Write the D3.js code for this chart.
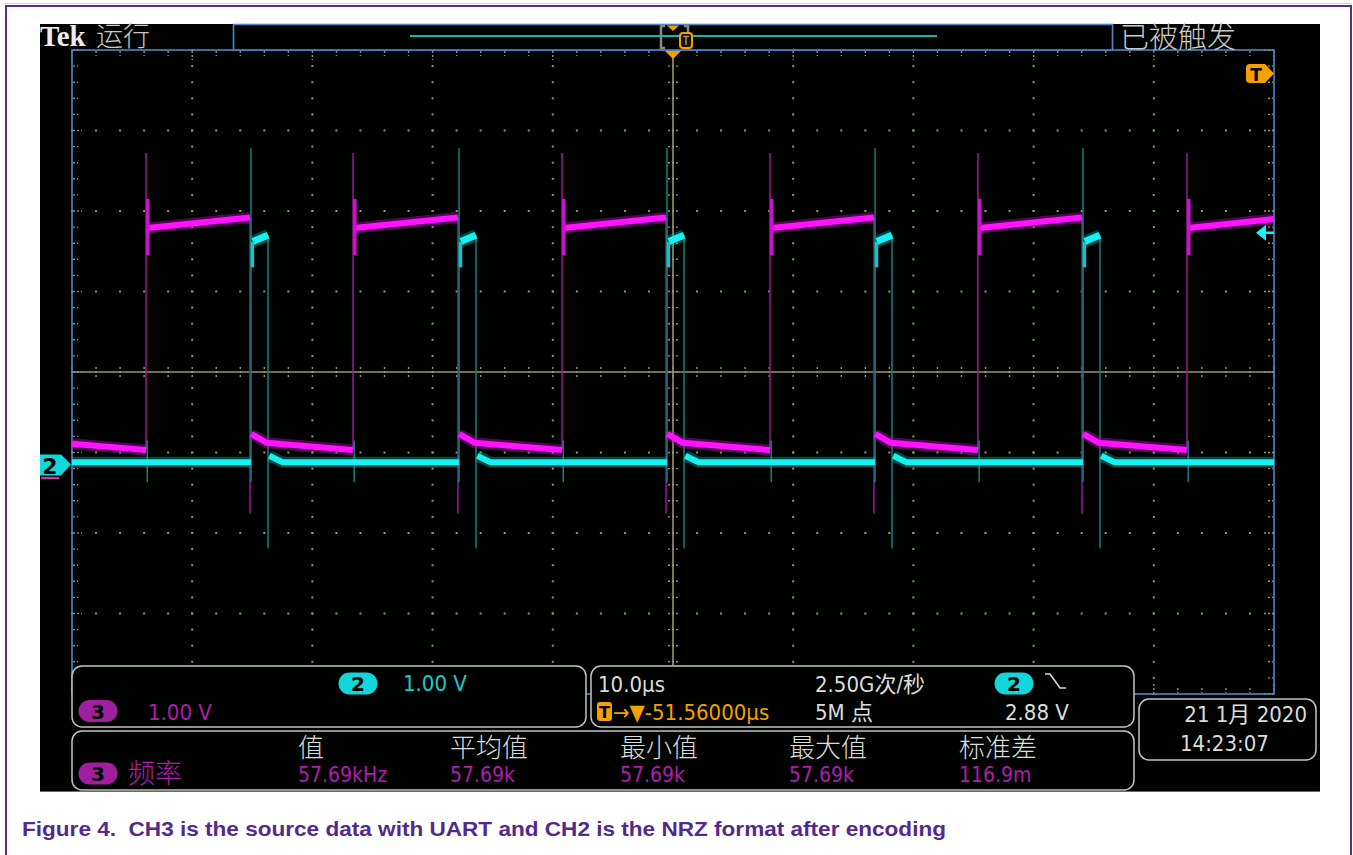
<!DOCTYPE html>
<html><head><meta charset="utf-8">
<script src="https://cdn.jsdelivr.net/npm/d3@7/dist/d3.min.js"></script>
<style>html,body{margin:0;padding:0;background:#fff;overflow:hidden}</style>
</head><body>
<svg id="c" width="1353" height="855"></svg>
<script>
// ---------- DATA ----------
// time in µs relative to screen centre (10 µs/div), voltage in V (1.00 V/div)
const ch3RiseT = [-43.84, -26.62, -9.23, 8.07, 25.37, 42.76];
const ch3FallT = [-35.19, -17.89, -0.58, 16.72, 34.03];
const ch2RiseT = [-35.11, -17.80, -0.50, 16.81, 34.11];
const ch2FallT = [-33.69, -16.39, 0.92, 18.22, 35.52];
const ch3HighLevels = [2.94, 3.07];        // start / end of high level
const ch3RingLevels = [2.60, 3.30];        // ringing span just after rising edge
const ch3LowLevels  = [0.38, 0.27, 0.18];  // just after fall, settled, before rise
const ch3StartLevel = 0.26, ch3EndLevel = 3.05;
const ch3SpikeLevels = [3.87, -0.61];      // overshoot at rise, undershoot at fall
const ch2HighLevels = [2.45, 2.77, 2.85];  // ring bottom, start, end
const ch2LowLevels  = [0.11, 0.03];        // just after fall, settled
const ch2SpikeLevels = [3.93, -0.22, -1.04]; // rise top, rise bottom, fall bottom
const ch2GlitchLevels = [0.30, -0.22];     // crosstalk at CH3 rising edges
const groundDiv = -1.15;                   // channel ground position, divisions
const triggerLevel = 2.88;
const gridDivX = 10, gridDivY = 8, minorPerDiv = 5;
const measHeaders = ["值", "平均值", "最小值", "最大值", "标准差"];
const measValues  = ["57.69kHz", "57.69k", "57.69k", "57.69k", "116.9m"];
const caption = "Figure 4.  CH3 is the source data with UART and CH2 is the NRZ format after encoding";

// ---------- SETUP ----------
const svg = d3.select("#c");
const PL = 72, PR = 1274, PT = 50, PB = 694;
const x = d3.scaleLinear().domain([-50, 50]).range([PL, PR]);
const y = d3.scaleLinear().domain([-4, 4]).range([PB, PT]);
const vy = v => y(v + groundDiv);
const FONT = "'DejaVu Sans Condensed','Liberation Sans Narrow','DejaVu Sans','Noto Sans CJK SC',sans-serif";
const CJK = "'Noto Sans CJK SC','DejaVu Sans',sans-serif";
const GRID = "#9c9275";
const BLUE = "#4f86c6";
const MAG = "#ff14ff", CYA = "#14f2f2";
const MAGT = "#b01cb0", CYAT = "#18cccc", WHT = "#dcdcdc", ORG = "#f5a000";

// outer page frame
svg.append("line").attr("x1",5).attr("x2",1352).attr("y1",6).attr("y2",6).attr("stroke","#5b2c8f").attr("stroke-width",2);
svg.append("line").attr("x1",5).attr("x2",1352).attr("y1",3.5).attr("y2",3.5).attr("stroke","#d8cce6").attr("stroke-width",1);
svg.append("line").attr("x1",6).attr("x2",6).attr("y1",5).attr("y2",855).attr("stroke","#5b2c8f").attr("stroke-width",2);
svg.append("line").attr("x1",1351).attr("x2",1351).attr("y1",5).attr("y2",855).attr("stroke","#5b2c8f").attr("stroke-width",2);

// scope screen
svg.append("rect").attr("x",40).attr("y",24).attr("width",1280).attr("height",768).attr("fill","#000200");
svg.append("line").attr("x1",40).attr("x2",1320).attr("y1",791.5).attr("y2",791.5).attr("stroke","#6a6a6a").attr("stroke-width",1);

// ---------- GRATICULE ----------
const g = svg.append("g");
const minorX = d3.range(0, gridDivX*minorPerDiv+1).map(i => -50 + i*(100/(gridDivX*minorPerDiv)));
const minorY = d3.range(0, gridDivY*minorPerDiv+1).map(i => -4 + i*(8/(gridDivY*minorPerDiv)));
const majorX = d3.range(1, gridDivX).map(i => -50 + i*10);
const majorY = d3.range(1, gridDivY).map(i => -4 + i);
const dots = [];
majorX.filter(t => t !== 0).forEach(t => minorY.forEach(v => dots.push([x(t), y(v)])));
majorY.filter(v => v !== 0).forEach(v => minorX.forEach(t => dots.push([x(t), y(v)])));
g.selectAll("rect.dot").data(dots).join("rect").attr("class","dot")
  .attr("x", d => d[0]-1).attr("y", d => d[1]-1).attr("width",2).attr("height",2).attr("fill",GRID);
// centre cross
g.append("line").attr("x1",PL).attr("x2",PR).attr("y1",y(0)).attr("y2",y(0)).attr("stroke",GRID).attr("stroke-width",1.6);
g.append("line").attr("x1",x(0)).attr("x2",x(0)).attr("y1",PT).attr("y2",PB).attr("stroke",GRID).attr("stroke-width",1.6);
g.selectAll("line.tx").data(minorX).join("line").attr("class","tx")
  .attr("x1",d=>x(d)).attr("x2",d=>x(d)).attr("y1",y(0)-5).attr("y2",y(0)+5)
  .attr("stroke",GRID).attr("stroke-width",1.4).attr("stroke-dasharray","2,2");
g.selectAll("line.ty").data(minorY).join("line").attr("class","ty")
  .attr("y1",d=>y(d)).attr("y2",d=>y(d)).attr("x1",x(0)-5).attr("x2",x(0)+5)
  .attr("stroke",GRID).attr("stroke-width",1.4).attr("stroke-dasharray","2,2");
// edge ticks
g.selectAll("line.et").data(minorX).join("line").attr("class","et")
  .attr("x1",d=>x(d)).attr("x2",d=>x(d)).attr("y1",PT+1).attr("y2",d => PT + (Math.abs(d%10)<1e-6 ? 10 : 6))
  .attr("stroke",GRID).attr("stroke-width",1.4).attr("stroke-dasharray","2,2");
g.selectAll("line.eb").data(minorX).join("line").attr("class","eb")
  .attr("x1",d=>x(d)).attr("x2",d=>x(d)).attr("y2",PB-1).attr("y1",d => PB - (Math.abs(d%10)<1e-6 ? 10 : 6))
  .attr("stroke",GRID).attr("stroke-width",1.4).attr("stroke-dasharray","2,2");
g.selectAll("line.el").data(minorY).join("line").attr("class","el")
  .attr("y1",d=>y(d)).attr("y2",d=>y(d)).attr("x1",PL+1).attr("x2",d => PL + (Math.abs(d%1)<1e-6 ? 10 : 6))
  .attr("stroke",GRID).attr("stroke-width",1.4).attr("stroke-dasharray","2,2");
g.selectAll("line.er").data(minorY).join("line").attr("class","er")
  .attr("y1",d=>y(d)).attr("y2",d=>y(d)).attr("x2",PR-1).attr("x1",d => PR - (Math.abs(d%1)<1e-6 ? 10 : 6))
  .attr("stroke",GRID).attr("stroke-width",1.4).attr("stroke-dasharray","2,2");
// border
g.append("rect").attr("x",PL).attr("y",PT).attr("width",PR-PL).attr("height",PB-PT)
  .attr("fill","none").attr("stroke",BLUE).attr("stroke-width",1.6);

// ---------- WAVEFORMS ----------
const line = d3.line().x(d => x(d[0])).y(d => vy(d[1]));
svg.append("clipPath").attr("id","clip").append("rect").attr("x",PL).attr("y",PT).attr("width",PR-PL).attr("height",PB-PT);
const wf = svg.append("g").attr("clip-path","url(#clip)");

// CH3 level segments (no vertical joins: edges are drawn thin)
const seg3 = [];
seg3.push([[-50, ch3StartLevel], [ch3RiseT[0], ch3LowLevels[2]]]);
ch3RiseT.forEach((tr, i) => {
  const tf = ch3FallT[i];
  if (tf !== undefined) {
    seg3.push([[tr+0.12, ch3HighLevels[0]], [tf, ch3HighLevels[1]]]);
    const next = ch3RiseT[i+1];
    seg3.push([[tf+0.1, ch3LowLevels[0]], [tf+1.4, ch3LowLevels[1]], [next, ch3LowLevels[2]]]);
  } else {
    seg3.push([[tr+0.12, ch3HighLevels[0]], [50, ch3EndLevel]]);
  }
});
const ring3 = ch3RiseT.map(tr => [[tr+0.15, ch3RingLevels[0]], [tr+0.15, ch3RingLevels[1]]]);
// CH2 level segments
const seg2low = [[[-50, ch2LowLevels[1]], [ch2RiseT[0], ch2LowLevels[1]]]];
const seg2high = [];
ch2RiseT.forEach((tr, i) => {
  const tf = ch2FallT[i];
  seg2high.push([[tr+0.15, ch2HighLevels[1]], [tf, ch2HighLevels[2]]]);
  const next = ch2RiseT[i+1] !== undefined ? ch2RiseT[i+1] : 50;
  seg2low.push([[tf+0.1, ch2LowLevels[0]], [tf+1.2, ch2LowLevels[1]], [next, ch2LowLevels[1]]]);
});
const ring2 = ch2RiseT.map(tr => [[tr+0.12, ch2HighLevels[0]], [tr+0.12, ch2HighLevels[1]]]);

// thin edge spikes
const spikes3 = ch3RiseT.map(t => [[t, ch3LowLevels[2]], [t, ch3SpikeLevels[0]]])
  .concat(ch3FallT.map(t => [[t, ch3HighLevels[1]], [t, ch3SpikeLevels[1]]]));
const spikes2 = ch2RiseT.map(t => [[t, ch2SpikeLevels[1]], [t, ch2SpikeLevels[0]]])
  .concat(ch2FallT.map(t => [[t, ch2HighLevels[2]], [t, ch2SpikeLevels[2]]]))
  .concat(ch3RiseT.map(t => [[t+0.1, ch2GlitchLevels[1]], [t+0.1, ch2GlitchLevels[0]]]));
wf.selectAll("path.s3").data(spikes3).join("path").attr("class","s3").attr("d", line)
  .attr("stroke","#9a1a9a").attr("stroke-width",1.5).attr("fill","none");
wf.selectAll("path.s2").data(spikes2).join("path").attr("class","s2").attr("d", line)
  .attr("stroke","#12807e").attr("stroke-width",1.5).attr("fill","none");

function bands(segs, halo, core, cls, w) {
  wf.selectAll("path.h"+cls).data(segs).join("path").attr("class","h"+cls).attr("d", line)
    .attr("fill","none").attr("stroke",halo).attr("stroke-width",w+5).attr("stroke-opacity",0.4);
  wf.selectAll("path.c"+cls).data(segs).join("path").attr("class","c"+cls).attr("d", line)
    .attr("fill","none").attr("stroke",core).attr("stroke-width",w);
}
bands(seg3, "#c010c0", MAG, "m", 6);
wf.selectAll("path.r3").data(ring3).join("path").attr("class","r3").attr("d", line)
  .attr("stroke","#d010d0").attr("stroke-width",3.5).attr("fill","none");
bands(seg2low, "#0aa8a8", CYA, "q", 6);
bands(seg2high, "#0aa8a8", CYA, "p", 7);
wf.selectAll("path.r2").data(ring2).join("path").attr("class","r2").attr("d", line)
  .attr("stroke","#10c8c8").attr("stroke-width",3.5).attr("fill","none");

// ---------- MARKERS ----------
// trigger position (top)
svg.append("path").attr("d",`M${x(0)-8},${PT+1} L${x(0)+8},${PT+1} L${x(0)},${PT+9} Z`).attr("fill",ORG);
// trigger level (right, cyan)
const ty = vy(triggerLevel);
svg.append("path").attr("d",`M${PR-18},${ty} L${PR-8},${ty-8} L${PR-8},${ty+8} Z`).attr("fill",CYA);
svg.append("line").attr("x1",PR-9).attr("x2",PR).attr("y1",ty).attr("y2",ty).attr("stroke",CYA).attr("stroke-width",2.5);
// T marker (right top)
svg.append("path").attr("d",`M1250,64 L1265,64 L1274,73.5 L1265,83 L1250,83 Q1246,83 1246,79 L1246,68 Q1246,64 1250,64 Z`).attr("fill",ORG);
svg.append("text").attr("x",1256).attr("y",81).attr("text-anchor","middle").attr("font-family","DejaVu Sans").attr("font-weight","bold").attr("font-size",17).attr("fill","#000").text("T");
// CH2 ground marker (left)
const gy = y(groundDiv);
svg.append("line").attr("x1",41).attr("x2",59).attr("y1",gy+13.5).attr("y2",gy+13.5).attr("stroke","#c040c0").attr("stroke-width",2);
svg.append("path").attr("d",`M40,${gy-10} L61,${gy-10} L71,${gy} L61,${gy+11} L40,${gy+11} Z`).attr("fill","#12d8dc");
svg.append("text").attr("x",50).attr("y",gy+9).attr("text-anchor","middle").attr("font-family","DejaVu Sans").attr("font-weight","bold").attr("font-size",22).attr("fill","#000").text("2");

// ---------- TOP BAR ----------
svg.append("text").attr("x",40).attr("y",46).attr("font-family","'Liberation Serif','DejaVu Serif',serif").attr("font-weight","bold").attr("font-size",29).attr("fill","#ecebf2").text("Tek");
svg.append("text").attr("x",96).attr("y",46).attr("font-family",CJK).attr("font-weight",300).attr("font-size",27).attr("fill","#c9c9c9").text("运行");
svg.append("text").attr("x",1120).attr("y",48).attr("font-family",CJK).attr("font-weight",300).attr("font-size",29).attr("fill","#c9c9c9").text("已被触发");
svg.append("rect").attr("x",233.5).attr("y",24.5).attr("width",879).attr("height",25.5).attr("fill","#000200").attr("stroke",BLUE).attr("stroke-width",1.6);
svg.append("line").attr("x1",410).attr("x2",937).attr("y1",36).attr("y2",36).attr("stroke","#17b3b3").attr("stroke-width",2);
svg.append("path").attr("d","M665,26 L661,26 L661,48 L665,48 M684,26 L688,26 L688,48 L684,48").attr("fill","none").attr("stroke","#8b8a80").attr("stroke-width",2.5);
svg.append("path").attr("d","M667,25.5 L679,25.5 L673,31 Z").attr("fill",ORG);
svg.append("rect").attr("x",680).attr("y",33).attr("width",12).attr("height",15).attr("rx",3).attr("fill","#1a1000").attr("stroke",ORG).attr("stroke-width",2);
svg.append("path").attr("d","M683,36.5 L689,36.5 M686,36.5 L686,45").attr("stroke","#9a9070").attr("stroke-width",1.6);

// ---------- BOTTOM PANELS ----------
function panel(x0, y0, w, h) {
  svg.append("rect").attr("x",x0).attr("y",y0).attr("width",w).attr("height",h).attr("rx",10)
    .attr("fill","#000200").attr("stroke","#c4c4c4").attr("stroke-width",1.5);
}
function pill(cx, cy, fill, label) {
  svg.append("rect").attr("x",cx-19.5).attr("y",cy-11).attr("width",39).attr("height",22).attr("rx",11).attr("fill",fill);
  svg.append("text").attr("x",cx).attr("y",cy+7.5).attr("text-anchor","middle").attr("font-family","DejaVu Sans").attr("font-weight","bold").attr("font-size",20).attr("fill","#000").text(label);
}
function txt(x0, y0, s, col, size, fam, anchor) {
  return svg.append("text").attr("x",x0).attr("y",y0).attr("font-family",fam||FONT).attr("font-size",size||22)
    .attr("fill",col).attr("text-anchor",anchor||"start").text(s);
}
panel(72, 666, 514, 61);
panel(591, 666, 543, 61);
panel(72, 731, 1062, 59);
panel(1139, 699, 177, 61);

pill(358, 683.5, "#12d6da", "2");
txt(403, 691, "1.00 V", CYAT);
pill(98, 711, "#a01ea0", "3");
txt(148, 720, "1.00 V", MAGT);

txt(598, 692, "10.0µs", WHT);
txt(815, 692, "2.50G次/秒", WHT);
pill(1014, 683.5, "#12d6da", "2");
svg.append("path").attr("d","M1045,674 L1050,674 L1060,688 L1066,688").attr("fill","none").attr("stroke",WHT).attr("stroke-width",1.6);
svg.append("rect").attr("x",597).attr("y",702).attr("width",15).attr("height",19).attr("rx",3).attr("fill",ORG);
svg.append("text").attr("x",604.5).attr("y",718).attr("text-anchor","middle").attr("font-family","DejaVu Sans").attr("font-weight","bold").attr("font-size",16).attr("fill","#000").text("T");
txt(613, 720, "→▼-51.56000µs", ORG);
txt(815, 720, "5M 点", WHT);
txt(1005, 720, "2.88 V", WHT);

pill(98, 773.5, "#a01ea0", "3");
txt(128, 783, "频率", MAGT, 27, CJK).attr("font-weight",300);
const measX = [298, 450, 620, 789, 959];
measHeaders.forEach((h, i) => txt(measX[i], 757, h, WHT, 26, CJK).attr("font-weight",300));
measValues.forEach((v, i) => txt(measX[i], 782, v, MAGT, 21));

txt(1307, 722, "21 1月 2020", WHT, 22, FONT, "end");
txt(1180, 751, "14:23:07", WHT, 22);

// ---------- CAPTION ----------
svg.append("text").attr("x",22).attr("y",836).attr("font-family","'Liberation Sans',Arial,sans-serif")
  .attr("font-weight","bold").attr("font-size",21).attr("fill","#532a8c")
  .style("white-space","pre").attr("xml:space","preserve")
  .attr("textLength",924).attr("lengthAdjust","spacingAndGlyphs").text(caption);
</script>
</body></html>
